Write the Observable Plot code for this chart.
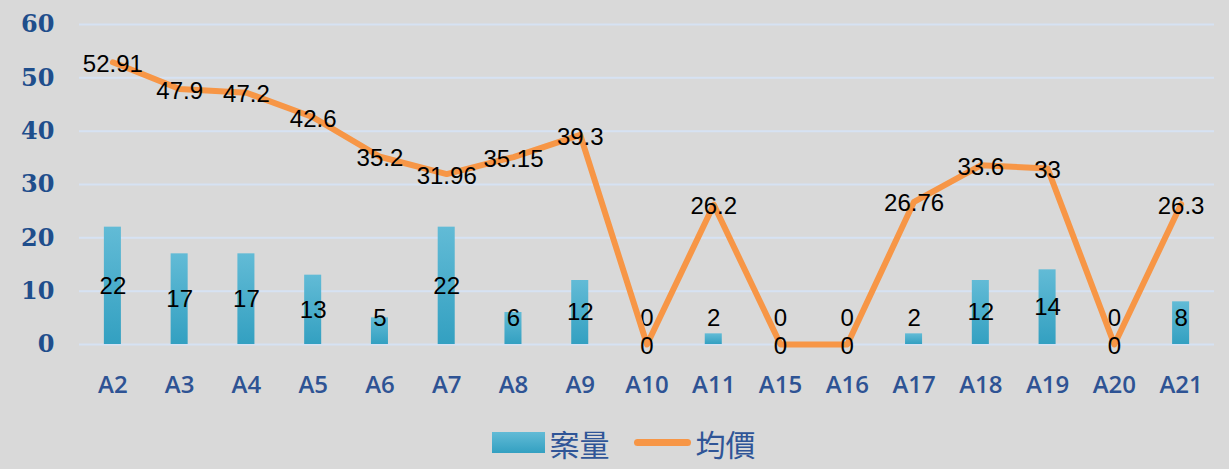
<!DOCTYPE html>
<html><head><meta charset="utf-8">
<script src="https://cdn.jsdelivr.net/npm/d3@7"></script>
<script src="https://cdn.jsdelivr.net/npm/@observablehq/plot@0.6"></script>
<style>
html,body{margin:0;padding:0;background:#d9d9d9;}
#chart{width:1229px;height:469px;background:#d9d9d9;overflow:hidden;}
#legend{display:flex;justify-content:center;align-items:center;height:69px;margin-top:8px;font-family:"Noto Sans CJK TC","Noto Sans",sans-serif;font-size:30px;color:#2f5597;padding-left:18px;}
#legend .item{display:flex;align-items:center;margin:0 6px;}
#legend .sw{width:53px;height:21px;background:linear-gradient(#62bbd6,#33a0c1);margin-right:5px;}
#legend .ln{width:57px;height:7px;border-radius:4px;background:#f79646;margin:0 5px 0 12px;}
</style></head><body><div id="chart"></div>
<script>
const categories = ["A2","A3","A4","A5","A6","A7","A8","A9","A10","A11","A15","A16","A17","A18","A19","A20","A21"];
const counts = [22,17,17,13,5,22,6,12,0,2,0,0,2,12,14,0,8];
const prices = [52.91,47.9,47.2,42.6,35.2,31.96,35.15,39.3,0,26.2,0,0,26.76,33.6,33,0,26.3];
const yTicks = [0,10,20,30,40,50,60];
const seriesNames = ["案量","均價"];

const data = categories.map((c,i)=>({cat:c,count:counts[i],price:prices[i]}));

const plot = Plot.plot({
  width:1229, height:400,
  marginLeft:79, marginRight:15, marginTop:24, marginBottom:56,
  style:{background:"transparent", overflow:"visible"},
  x:{domain:categories, type:"band", paddingInner:0.745, paddingOuter:0.3725, round:false},
  y:{domain:[0,60]},
  marks:[
    Plot.gridY(yTicks,{stroke:"#d6e2f3", strokeOpacity:1, strokeWidth:2}),
    Plot.axisY(yTicks,{label:null, tickSize:0, tickPadding:25, fontSize:24, fontWeight:"bold", fontFamily:"DejaVu Serif", fill:"#1f4e8c"}),
    Plot.axisX({label:null, tickSize:0, tickPadding:31, fontSize:24, fontWeight:600, fontFamily:"Open Sans", fill:"#2e5394"}),
    Plot.barY(data,{x:"cat", y:"count", fill:"url(#barGrad)"}),
    Plot.text(data,{x:"cat", y:d=>Math.max(d.count/2,4.9), text:d=>String(d.count), fontSize:24, fontFamily:"Liberation Sans", fill:"#000"}),
    Plot.lineY(data,{x:"cat", y:"price", stroke:"#f79646", strokeWidth:6, strokeLinejoin:"round", strokeLinecap:"round"}),
    Plot.text(data,{x:"cat", y:"price", dy:2, text:d=>String(d.price), fontSize:24, fontFamily:"Liberation Sans", fill:"#000"})
  ]
});

const svg = d3.select(plot);
const defs = svg.insert("defs",":first-child");
const g = defs.append("linearGradient").attr("id","barGrad").attr("x1",0).attr("y1",0).attr("x2",0).attr("y2",1);
g.append("stop").attr("offset","0%").attr("stop-color","#62bbd6");
g.append("stop").attr("offset","100%").attr("stop-color","#33a0c1");

const chart = document.getElementById("chart");
chart.appendChild(plot);
const legend = document.createElement("div");
legend.id = "legend";
legend.innerHTML = `<div class="item"><div class="sw"></div><span>${seriesNames[0]}</span></div><div class="item"><div class="ln"></div><span>${seriesNames[1]}</span></div>`;
chart.appendChild(legend);
</script></body></html>
